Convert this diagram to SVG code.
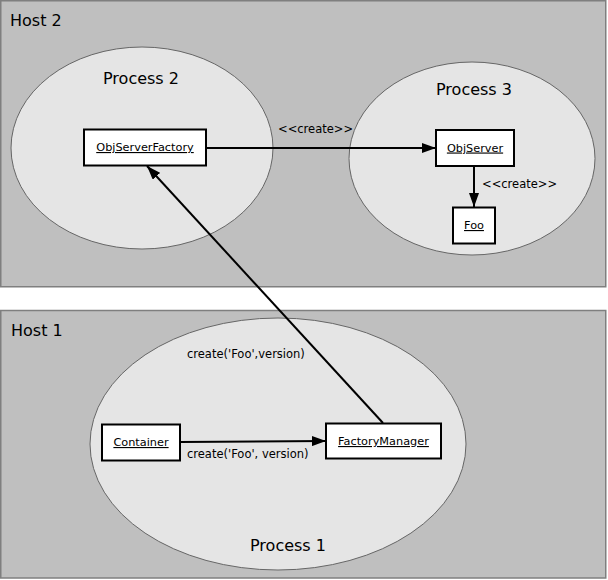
<svg xmlns="http://www.w3.org/2000/svg" width="608" height="580" viewBox="0 0 608 580">
<style>
.host{fill:#bfbfbf;stroke:#7f7f7f;stroke-width:1.5}
.proc{fill:#e5e5e5;stroke:#666;stroke-width:1}
.box{fill:#fff;stroke:#000;stroke-width:2}
.t{font-family:"DejaVu Sans",sans-serif;fill:#000}
.big{font-size:16px}
.small{font-size:11.3px;text-decoration:underline}
.lbl{font-size:11.5px}
.edge{stroke:#000;stroke-width:2;fill:none}
</style>
<defs>
<marker id="ah" markerWidth="14" markerHeight="10" refX="14" refY="5" orient="auto" markerUnits="userSpaceOnUse">
<path d="M0,0 L14,5 L0,10 Z" fill="#000"/>
</marker>
</defs>
<rect width="608" height="580" fill="#fff"/>
<g id="host2">
<rect class="host" x="0.75" y="0.75" width="605" height="286"/>
<text class="t big" x="10" y="26">Host 2</text>
</g>
<g id="host1">
<rect class="host" x="0.75" y="310.5" width="605" height="267.5"/>
<text class="t big" x="11" y="336">Host 1</text>
</g>
<g id="process2">
<ellipse class="proc" cx="142" cy="148" rx="131" ry="101"/>
<text class="t big" x="103" y="84">Process 2</text>
</g>
<g id="process3">
<ellipse class="proc" cx="472" cy="158.5" rx="123" ry="96.5"/>
<text class="t big" x="436" y="95">Process 3</text>
</g>
<g id="process1">
<ellipse class="proc" cx="278" cy="444" rx="188" ry="126"/>
<text class="t big" x="250" y="551">Process 1</text>
</g>
<g id="objserverfactory">
<rect class="box" x="84" y="129.5" width="122" height="36"/>
<text class="t small" x="145" y="151" text-anchor="middle">ObjServerFactory</text>
</g>
<g id="objserver">
<rect class="box" x="436" y="130" width="78" height="36"/>
<text class="t small" x="475" y="151.5" text-anchor="middle">ObjServer</text>
</g>
<g id="foo">
<rect class="box" x="453" y="207.5" width="42" height="36"/>
<text class="t small" x="474" y="229" text-anchor="middle">Foo</text>
</g>
<g id="container">
<rect class="box" x="102" y="424.5" width="78" height="36"/>
<text class="t small" x="141" y="446" text-anchor="middle">Container</text>
</g>
<g id="factorymanager">
<rect class="box" x="326" y="423.5" width="115" height="35"/>
<text class="t small" x="383.5" y="445" text-anchor="middle">FactoryManager</text>
</g>
<g id="connectors">
<line class="edge" x1="206" y1="148" x2="436" y2="148" marker-end="url(#ah)"/>
<line class="edge" x1="474" y1="166" x2="474" y2="207" marker-end="url(#ah)"/>
<line class="edge" x1="383" y1="423" x2="147" y2="166" marker-end="url(#ah)"/>
<line class="edge" x1="180" y1="442" x2="326" y2="441" marker-end="url(#ah)"/>
<text class="t lbl" x="278" y="133">&lt;&lt;create&gt;&gt;</text>
<text class="t lbl" x="482" y="188">&lt;&lt;create&gt;&gt;</text>
<text class="t lbl" x="187" y="358">create('Foo',version)</text>
<text class="t lbl" x="187" y="458">create('Foo', version)</text>
</g>
</svg>
